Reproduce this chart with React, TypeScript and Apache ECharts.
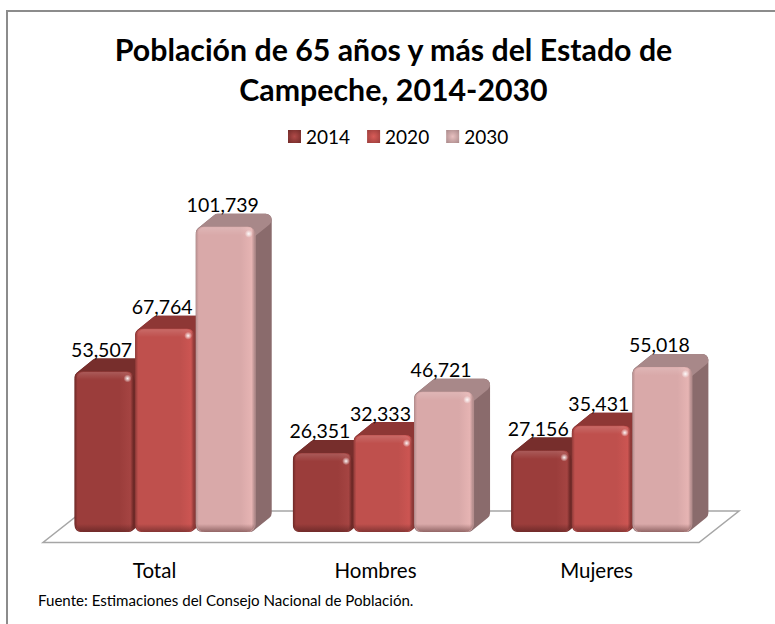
import React, { useEffect, useRef } from "react";
import * as echarts from "echarts";

const categories = ["Total", "Hombres", "Mujeres"];
const years = ["2014", "2020", "2030"];
const values2014 = [53507, 26351, 27156];
const values2020 = [67764, 32333, 35431];
const values2030 = [101739, 46721, 55018];
const titleText = "Población de 65 años y más del Estado de\nCampeche, 2014-2030";
const sourceText = "Fuente: Estimaciones del Consejo Nacional de Población.";
const FONT = "Lato, 'Open Sans', sans-serif";

const palettes = [
  { legendIn: "#b04a48", legend: "#702a28", edge: "#6f2927", base: "#9b3d3b", light: "#a54442", top: "#772e2c", side: "#6d2a28" },
  { legendIn: "#d85c58", legend: "#9a3d3b", edge: "#8f3a38", base: "#bf504d", light: "#cc5552", top: "#8e3735", side: "#863634" },
  { legendIn: "#e8c0c0", legend: "#a88889", edge: "#b58e8e", base: "#d9a9a9", light: "#e6b4b3", top: "#a88889", side: "#8a6b6c" },
];

const DX = 16;
const DY = 13;
const fmt = (v: number) => String(v).replace(/\B(?=(\d{3})+$)/g, ",");

function makeRender(seriesIndex: number) {
  const pal = palettes[seriesIndex];
  return (_params: any, api: any) => {
    const cat = api.value(0);
    const val = api.value(1);
    const [cx, T] = api.coord([cat, val]);
    const [, B] = api.coord([cat, 0]);
    const band = api.size([1, 0])[0];
    const step = band * 0.2775;
    const w = band * 0.2745;
    const L = cx + (seriesIndex - 1) * step - w / 2;
    const R = L + w;
    const r = 6;
    const rounded = { lineWidth: r * 2, lineJoin: "round" };
    return {
      type: "group",
      children: [
        {
          type: "polygon",
          shape: {
            points: [
              [L + r, T + r],
              [L + DX + r, T - DY + r],
              [R + DX - r, T - DY + r],
              [R + DX - r, B - DY - r],
              [R - r, B - r],
              [L + r, B - r],
            ],
          },
          style: { ...rounded, fill: pal.side, stroke: pal.side },
        },
        {
          type: "polygon",
          shape: {
            points: [
              [L + r, T + r],
              [L + DX + r, T - DY + r],
              [R + DX - r, T - DY + r],
              [R - r, T + r],
            ],
          },
          style: { ...rounded, fill: pal.top, stroke: pal.top },
        },
        {
          type: "rect",
          shape: { x: L, y: T, width: w, height: B - T, r: 8 },
          style: {
            fill: {
              type: "linear", x: 0, y: 0, x2: 1, y2: 0,
              colorStops: [
                { offset: 0, color: pal.edge },
                { offset: 0.05, color: pal.base },
                { offset: 0.75, color: pal.base },
                { offset: 0.93, color: pal.light },
                { offset: 0.98, color: pal.edge },
                { offset: 1, color: pal.edge },
              ],
            },
          },
        },
        {
          type: "rect",
          shape: { x: L + 2, y: T + 0.5, width: w - 4, height: 8, r: [7, 7, 0, 0] },
          style: {
            fill: {
              type: "linear", x: 0, y: 0, x2: 0, y2: 1,
              colorStops: [
                { offset: 0, color: "rgba(255,255,255,0.15)" },
                { offset: 1, color: "rgba(255,255,255,0)" },
              ],
            },
          },
        },
        {
          type: "rect",
          shape: { x: L + 1, y: B - 8, width: w - 2, height: 8, r: [0, 0, 8, 8] },
          style: {
            fill: {
              type: "linear", x: 0, y: 0, x2: 0, y2: 1,
              colorStops: [
                { offset: 0, color: "rgba(60,20,20,0)" },
                { offset: 1, color: "rgba(60,20,20,0.45)" },
              ],
            },
          },
        },
        {
          type: "circle",
          shape: { cx: R - 7, cy: T + 7, r: 4 },
          style: {
            fill: {
              type: "radial", x: 0.5, y: 0.5, r: 0.5,
              colorStops: [
                { offset: 0, color: "rgba(255,255,255,0.95)" },
                { offset: 1, color: "rgba(255,255,255,0)" },
              ],
            },
          },
        },
        {
          type: "text",
          z2: 100,
          style: {
            text: fmt(val),
            x: (L + R) / 2 - 3,
            y: T - DY - 9,
            textAlign: "center",
            textVerticalAlign: "middle",
            fontFamily: FONT,
            fontSize: 19.5,
            fill: "#000",
          },
        },
      ],
    };
  };
}

const allValues = [values2014, values2020, values2030];

export default function App() {
  const ref = useRef<HTMLDivElement>(null);
  useEffect(() => {
    const chart = echarts.init(ref.current!, undefined, { renderer: "svg" });
    chart.setOption({
      animation: false,
      backgroundColor: "#fff",
      title: [
        {
          text: titleText,
          left: 388.5,
          top: 24,
          textAlign: "center",
          textStyle: { fontFamily: FONT, fontSize: 30.3, fontWeight: "bold", color: "#000", lineHeight: 40 },
        },
        {
          text: sourceText,
          left: 38,
          top: 592,
          padding: 0,
          textStyle: { fontFamily: FONT, fontSize: 15.1, fontWeight: "normal", color: "#000" },
        },
      ],
      legend: {
        left: 288,
        top: 127,
        padding: 0,
        itemWidth: 13,
        itemHeight: 13,
        itemGap: 17,
        icon: "rect",
        data: years,
        textStyle: { fontFamily: FONT, fontSize: 19, color: "#000" },
      },
      grid: [
        { left: 56, width: 655, top: 22, height: 510 },
        { left: 44, width: 663, top: 22, height: 521 },
      ],
      xAxis: [
        { type: "category", gridIndex: 0, data: categories, show: false },
        {
          type: "category",
          gridIndex: 1,
          data: categories,
          axisLine: { show: false },
          axisTick: { show: false },
          axisLabel: { margin: 16, fontFamily: FONT, fontSize: 20.5, color: "#000" },
        },
      ],
      yAxis: [
        { type: "value", gridIndex: 0, min: 0, max: 170000, show: false },
        { type: "value", gridIndex: 1, min: 0, max: 170000, show: false },
      ],
      series: years.map((y, i) => ({
        type: "custom",
        name: y,
        xAxisIndex: 0,
        yAxisIndex: 0,
        itemStyle: {
          color: {
            type: "radial", x: 0.5, y: 0.5, r: 0.7,
            colorStops: [
              { offset: 0, color: palettes[i].legendIn },
              { offset: 1, color: palettes[i].legend },
            ],
          },
        },
        encode: { x: 0, y: 1 },
        data: allValues[i].map((v, c) => [c, v]),
        renderItem: makeRender(i),
        clip: false,
      })),
      graphic: [
        {
          type: "polyline",
          silent: true,
          shape: { points: [[7, 624], [7, 11], [775, 11]] },
          style: { stroke: "#8c8c8c", lineWidth: 2, fill: "none" },
        },
        {
          type: "polygon",
          silent: true,
          shape: { points: [[43, 542.5], [699, 542.5], [739, 511], [83, 511]] },
          style: { stroke: "#a6a6a6", lineWidth: 1.5, fill: "#fff" },
        },
      ],
    });
    return () => chart.dispose();
  }, []);
  return <div ref={ref} style={{ position: "fixed", left: 0, top: 0, width: 775, height: 624 }} />;
}
